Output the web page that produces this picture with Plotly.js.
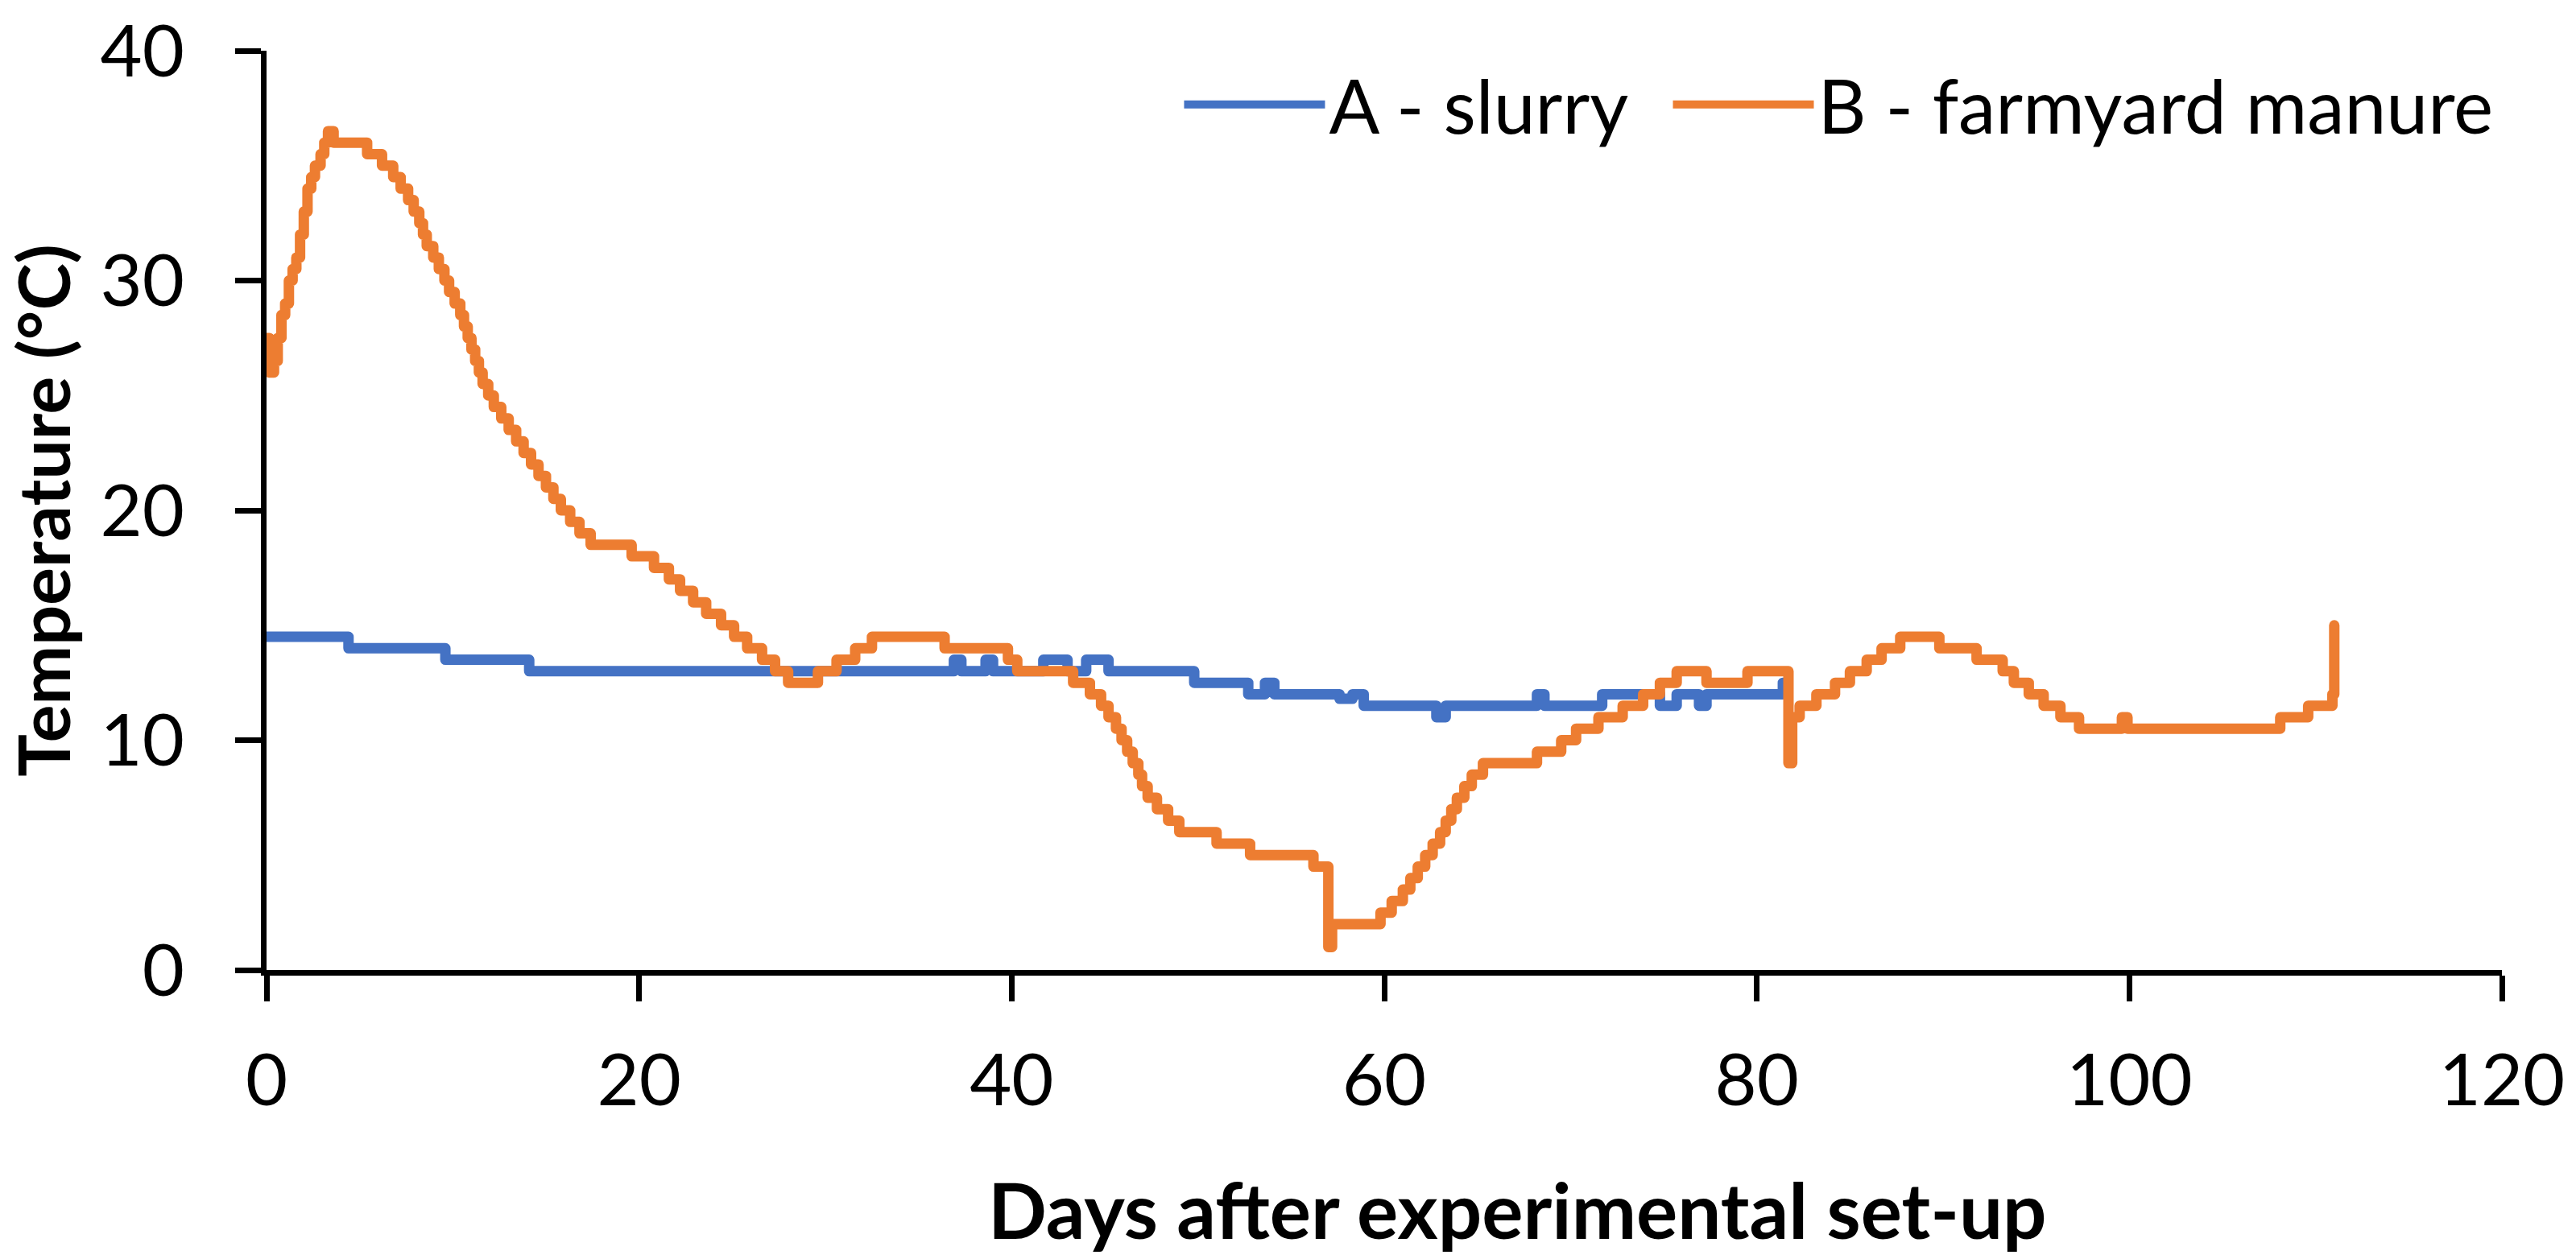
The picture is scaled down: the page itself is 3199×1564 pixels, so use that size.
<!DOCTYPE html>
<html>
<head>
<meta charset="utf-8">
<script src="https://cdn.plot.ly/plotly-3.0.1.min.js"></script>
<style>
  html, body { margin: 0; padding: 0; background: #fff; }
  #chart { width: 3199px; height: 1564px; }
  .scatterlayer path.js-line { stroke-linejoin: round; stroke-linecap: round; }
</style>
</head>
<body>
<div id="chart"></div>
<script>
// A - slurry: days at which each reading level starts, and the level (°C)
const dayA = [0, 4.4, 9.6, 14.1, 36.9, 37.3, 38.6, 39.0, 41.7, 43.0, 44.0, 45.2, 49.8,
  52.7, 53.6, 54.1, 57.6, 58.3, 58.9, 62.8, 63.3, 68.2, 68.6, 71.7, 74.8, 75.7, 76.9, 77.3, 81.4, 81.6];
const tempA = [14.5, 14.0, 13.5, 13.0, 13.5, 13.0, 13.5, 13.0, 13.5, 13.0, 13.5, 13.0, 12.5,
  12.0, 12.5, 12.0, 11.8, 12.0, 11.5, 11.0, 11.5, 12.0, 11.5, 12.0, 11.5, 12.0, 11.5, 12.0, 12.5, 12.5];

// B - farmyard manure
const dayB = [0, 0.15, 0.4, 0.6, 0.8, 1.0, 1.2, 1.4, 1.6, 1.8, 2.0, 2.2, 2.4, 2.6, 2.9, 3.1, 3.3, 3.6,
  5.4, 6.2, 6.8, 7.2, 7.6, 7.9, 8.2, 8.4, 8.6, 8.95, 9.25, 9.55, 9.8, 10.1, 10.4, 10.6,
  10.8, 11.0, 11.2, 11.4, 11.6, 11.9, 12.2, 12.6, 13.0, 13.4, 13.8, 14.2, 14.6, 15.0, 15.4, 15.8,
  16.3, 16.8, 17.4, 19.6, 20.8, 21.6, 22.2, 22.9, 23.6, 24.4, 25.1, 25.8, 26.6, 27.3, 28.0,
  29.6, 30.6, 31.6, 32.5, 36.4, 39.8, 40.3, 43.3, 44.2, 44.8, 45.2, 45.6, 45.9, 46.2, 46.5,
  46.8, 47.0, 47.3, 47.8, 48.4, 49.0, 51.0, 52.8, 56.2, 57.0, 57.2, 59.8, 60.4, 61.0, 61.4,
  61.8, 62.2, 62.6, 63.0, 63.3, 63.6, 63.9, 64.3, 64.7, 65.3, 68.2, 69.5, 70.3, 71.5, 72.8,
  73.9, 74.8, 75.7, 77.3, 79.5, 81.7, 81.9, 82.3, 83.2, 84.2, 85.0, 85.9, 86.7, 87.7, 89.8,
  91.8, 93.2, 93.8, 94.6, 95.4, 96.3, 97.3, 99.6, 99.9, 108.1, 109.6, 110.9, 111.0];
const tempB = [27.5, 26.0, 26.5, 27.5, 28.5, 29.0, 30.0, 30.5, 31.0, 32.0, 33.0, 34.0, 34.5, 35.0, 35.5, 36.0, 36.5, 36.0,
  35.5, 35.0, 34.5, 34.0, 33.5, 33.0, 32.5, 32.0, 31.5, 31.0, 30.5, 30.0, 29.5, 29.0, 28.5, 28.0,
  27.5, 27.0, 26.5, 26.0, 25.5, 25.0, 24.5, 24.0, 23.5, 23.0, 22.5, 22.0, 21.5, 21.0, 20.5, 20.0,
  19.5, 19.0, 18.5, 18.0, 17.5, 17.0, 16.5, 16.0, 15.5, 15.0, 14.5, 14.0, 13.5, 13.0, 12.5,
  13.0, 13.5, 14.0, 14.5, 14.0, 13.5, 13.0, 12.5, 12.0, 11.5, 11.0, 10.5, 10.0, 9.5, 9.0,
  8.5, 8.0, 7.5, 7.0, 6.5, 6.0, 5.5, 5.0, 4.5, 1.0, 2.0, 2.5, 3.0, 3.5, 4.0,
  4.5, 5.0, 5.5, 6.0, 6.5, 7.0, 7.5, 8.0, 8.5, 9.0, 9.5, 10.0, 10.5, 11.0, 11.5,
  12.0, 12.5, 13.0, 12.5, 13.0, 9.0, 11.0, 11.5, 12.0, 12.5, 13.0, 13.5, 14.0, 14.5, 14.0,
  13.5, 13.0, 12.5, 12.0, 11.5, 11.0, 10.5, 11.0, 10.5, 11.0, 11.5, 12.0, 15.0];

const seriesNames = ['A - slurry', 'B - farmyard manure'];
const xTicks = [0, 20, 40, 60, 80, 100, 120];
const yTicks = [0, 10, 20, 30, 40];

const FONT = 'Lato, "Open Sans", sans-serif';

const traces = [
  {
    x: dayA, y: tempA, name: seriesNames[0] + '\u00a0\u00a0', type: 'scatter', mode: 'lines',
    line: { color: '#4472C4', width: 13, shape: 'hv' }
  },
  {
    x: dayB, y: tempB, name: seriesNames[1], type: 'scatter', mode: 'lines',
    line: { color: '#ED7D31', width: 13, shape: 'hv' }
  }
];

const axisCommon = {
  showline: true, linecolor: '#000', linewidth: 7,
  ticks: 'outside', ticklen: 32, tickwidth: 7, tickcolor: '#000',
  showgrid: false, zeroline: false, fixedrange: true,
  tickfont: { family: FONT, size: 90, color: '#000' }
};

const layout = {
  width: 3199, height: 1564,
  margin: { l: 331, r: 92, t: 63, b: 359 },
  paper_bgcolor: '#fff', plot_bgcolor: '#fff',
  showlegend: true,
  legend: {
    orientation: 'h', x: 0.998, xanchor: 'right', y: 0.9414, yanchor: 'middle',
    font: { family: FONT, size: 93, color: '#000' },
    bgcolor: 'rgba(0,0,0,0)', itemwidth: 175, tracegroupgap: 0
  },
  xaxis: Object.assign({}, axisCommon, {
    range: [0, 120], tickvals: xTicks, ticklabelstandoff: 21
  }),
  yaxis: Object.assign({}, axisCommon, {
    range: [0, 40], tickvals: yTicks, ticklabelstandoff: 45,
    title: { text: '<b>Temperature (°C)</b>', standoff: 12, font: { family: FONT, size: 88, color: '#000' } }
  }),
  annotations: [{
    xref: 'paper', yref: 'paper', x: 0.5595, y: -0.260, xanchor: 'center', yanchor: 'middle',
    showarrow: false, text: '<b>Days after experimental set-up</b>',
    font: { family: FONT, size: 96, color: '#000' }
  }]
};

Plotly.newPlot('chart', traces, layout, { displayModeBar: false, staticPlot: true });
</script>
</body>
</html>
